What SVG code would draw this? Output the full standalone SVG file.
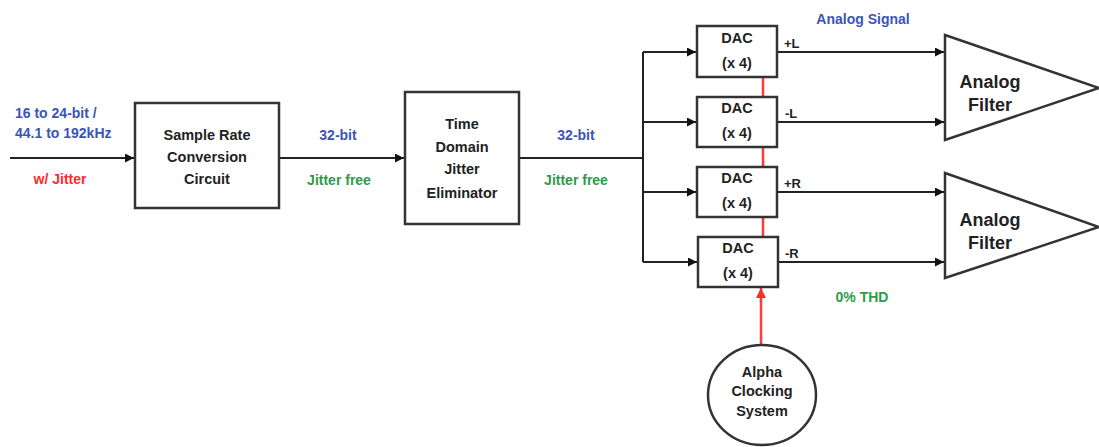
<svg xmlns="http://www.w3.org/2000/svg" width="1099" height="447" viewBox="0 0 1099 447">
<defs>
<marker id="ah" viewBox="0 0 10 10" refX="10" refY="5" markerWidth="10" markerHeight="9" markerUnits="userSpaceOnUse" orient="auto"><path d="M0,0 L10,5 L0,10 z" fill="#111"/></marker>
<marker id="ahr" viewBox="0 0 10 10" refX="10" refY="5" markerWidth="10" markerHeight="10" markerUnits="userSpaceOnUse" orient="auto"><path d="M0,0 L10,5 L0,10 z" fill="#ff2a2a"/></marker>
</defs>
<style>
text{font-family:"Liberation Sans",Arial,sans-serif;font-weight:bold;text-anchor:middle;dominant-baseline:central}
.box{fill:#fff;stroke:#333;stroke-width:2.5}
.t{font-size:14.5px;fill:#222}
.big{font-size:18px;fill:#222}
.blue{font-size:14px;fill:#3a55b8}
.green{font-size:14px;fill:#2e9a4c}
.red{font-size:14px;fill:#ff2a2a}
.lbl{font-size:13px;fill:#222;text-anchor:start}
.st{text-anchor:start}
.ln{fill:none;stroke:#222;stroke-width:2}
.rl{fill:none;stroke:#ff3a3a;stroke-width:2.5}
</style>
<rect width="1099" height="447" fill="#fff"/>
<g id="connectors">
<path class="ln" d="M10,158 H134" marker-end="url(#ah)"/>
<path class="ln" d="M279,158 H404" marker-end="url(#ah)"/>
<path class="ln" d="M519,158 H643"/>
<path class="ln" d="M643,52 V262"/>
<path class="ln" d="M643,52 H696" marker-end="url(#ah)"/>
<path class="ln" d="M643,122 H696" marker-end="url(#ah)"/>
<path class="ln" d="M643,192 H696" marker-end="url(#ah)"/>
<path class="ln" d="M643,262 H697" marker-end="url(#ah)"/>
<path class="ln" d="M777,52 H944" marker-end="url(#ah)"/>
<path class="ln" d="M777,122 H944" marker-end="url(#ah)"/>
<path class="ln" d="M777,192 H944" marker-end="url(#ah)"/>
<path class="ln" d="M778,262 H944" marker-end="url(#ah)"/>
<path class="rl" d="M763,77 V97"/>
<path class="rl" d="M763,147 V167"/>
<path class="rl" d="M763,217 V237"/>
<path class="rl" d="M761,344 V288" marker-end="url(#ahr)"/>
</g>
<g id="src"><rect class="box" x="135" y="103" width="144" height="105"/>
<text class="t" x="207" y="135">Sample Rate</text><text class="t" x="207" y="157">Conversion</text><text class="t" x="207" y="179">Circuit</text></g>
<g id="tdje"><rect class="box" x="405" y="92" width="114" height="132"/>
<text class="t" x="462" y="124">Time</text><text class="t" x="462" y="147">Domain</text><text class="t" x="462" y="169">Jitter</text><text class="t" x="462" y="193">Eliminator</text></g>
<g id="dac1"><rect class="box" x="697" y="26" width="80" height="51"/><text class="t" x="737" y="38">DAC</text><text class="t" x="737" y="63">(x 4)</text></g>
<g id="dac2"><rect class="box" x="697" y="97" width="80" height="50"/><text class="t" x="737" y="108">DAC</text><text class="t" x="737" y="133">(x 4)</text></g>
<g id="dac3"><rect class="box" x="697" y="167" width="80" height="50"/><text class="t" x="737" y="178">DAC</text><text class="t" x="737" y="203">(x 4)</text></g>
<g id="dac4"><rect class="box" x="698" y="237" width="80" height="50"/><text class="t" x="738" y="248">DAC</text><text class="t" x="738" y="273">(x 4)</text></g>
<g id="filter1"><path class="box" d="M945,35 L1099,88 L945,140 Z"/><text class="big" x="990" y="82">Analog</text><text class="big" x="990" y="105">Filter</text></g>
<g id="filter2"><path class="box" d="M945,173 L1099,227 L945,278 Z"/><text class="big" x="990" y="220">Analog</text><text class="big" x="990" y="243">Filter</text></g>
<g id="clock"><ellipse class="box" cx="762" cy="395" rx="54" ry="50"/><text class="t" x="762" y="372">Alpha</text><text class="t" x="762" y="391">Clocking</text><text class="t" x="762" y="411">System</text></g>
<g id="labels">
<text class="blue st" x="15" y="113">16 to 24-bit /</text>
<text class="blue st" x="15" y="133">44.1 to 192kHz</text>
<text class="red" x="60" y="179">w/ Jitter</text>
<text class="blue" x="338" y="135">32-bit</text>
<text class="green" x="339" y="180">Jitter free</text>
<text class="blue" x="576" y="135">32-bit</text>
<text class="green" x="576" y="180">Jitter free</text>
<text class="blue" x="863" y="19">Analog Signal</text>
<text class="green" x="862" y="297">0% THD</text>
<text class="lbl" x="784" y="43">+L</text>
<text class="lbl" x="785" y="113">-L</text>
<text class="lbl" x="784" y="183">+R</text>
<text class="lbl" x="785" y="253">-R</text>
</g>
</svg>
